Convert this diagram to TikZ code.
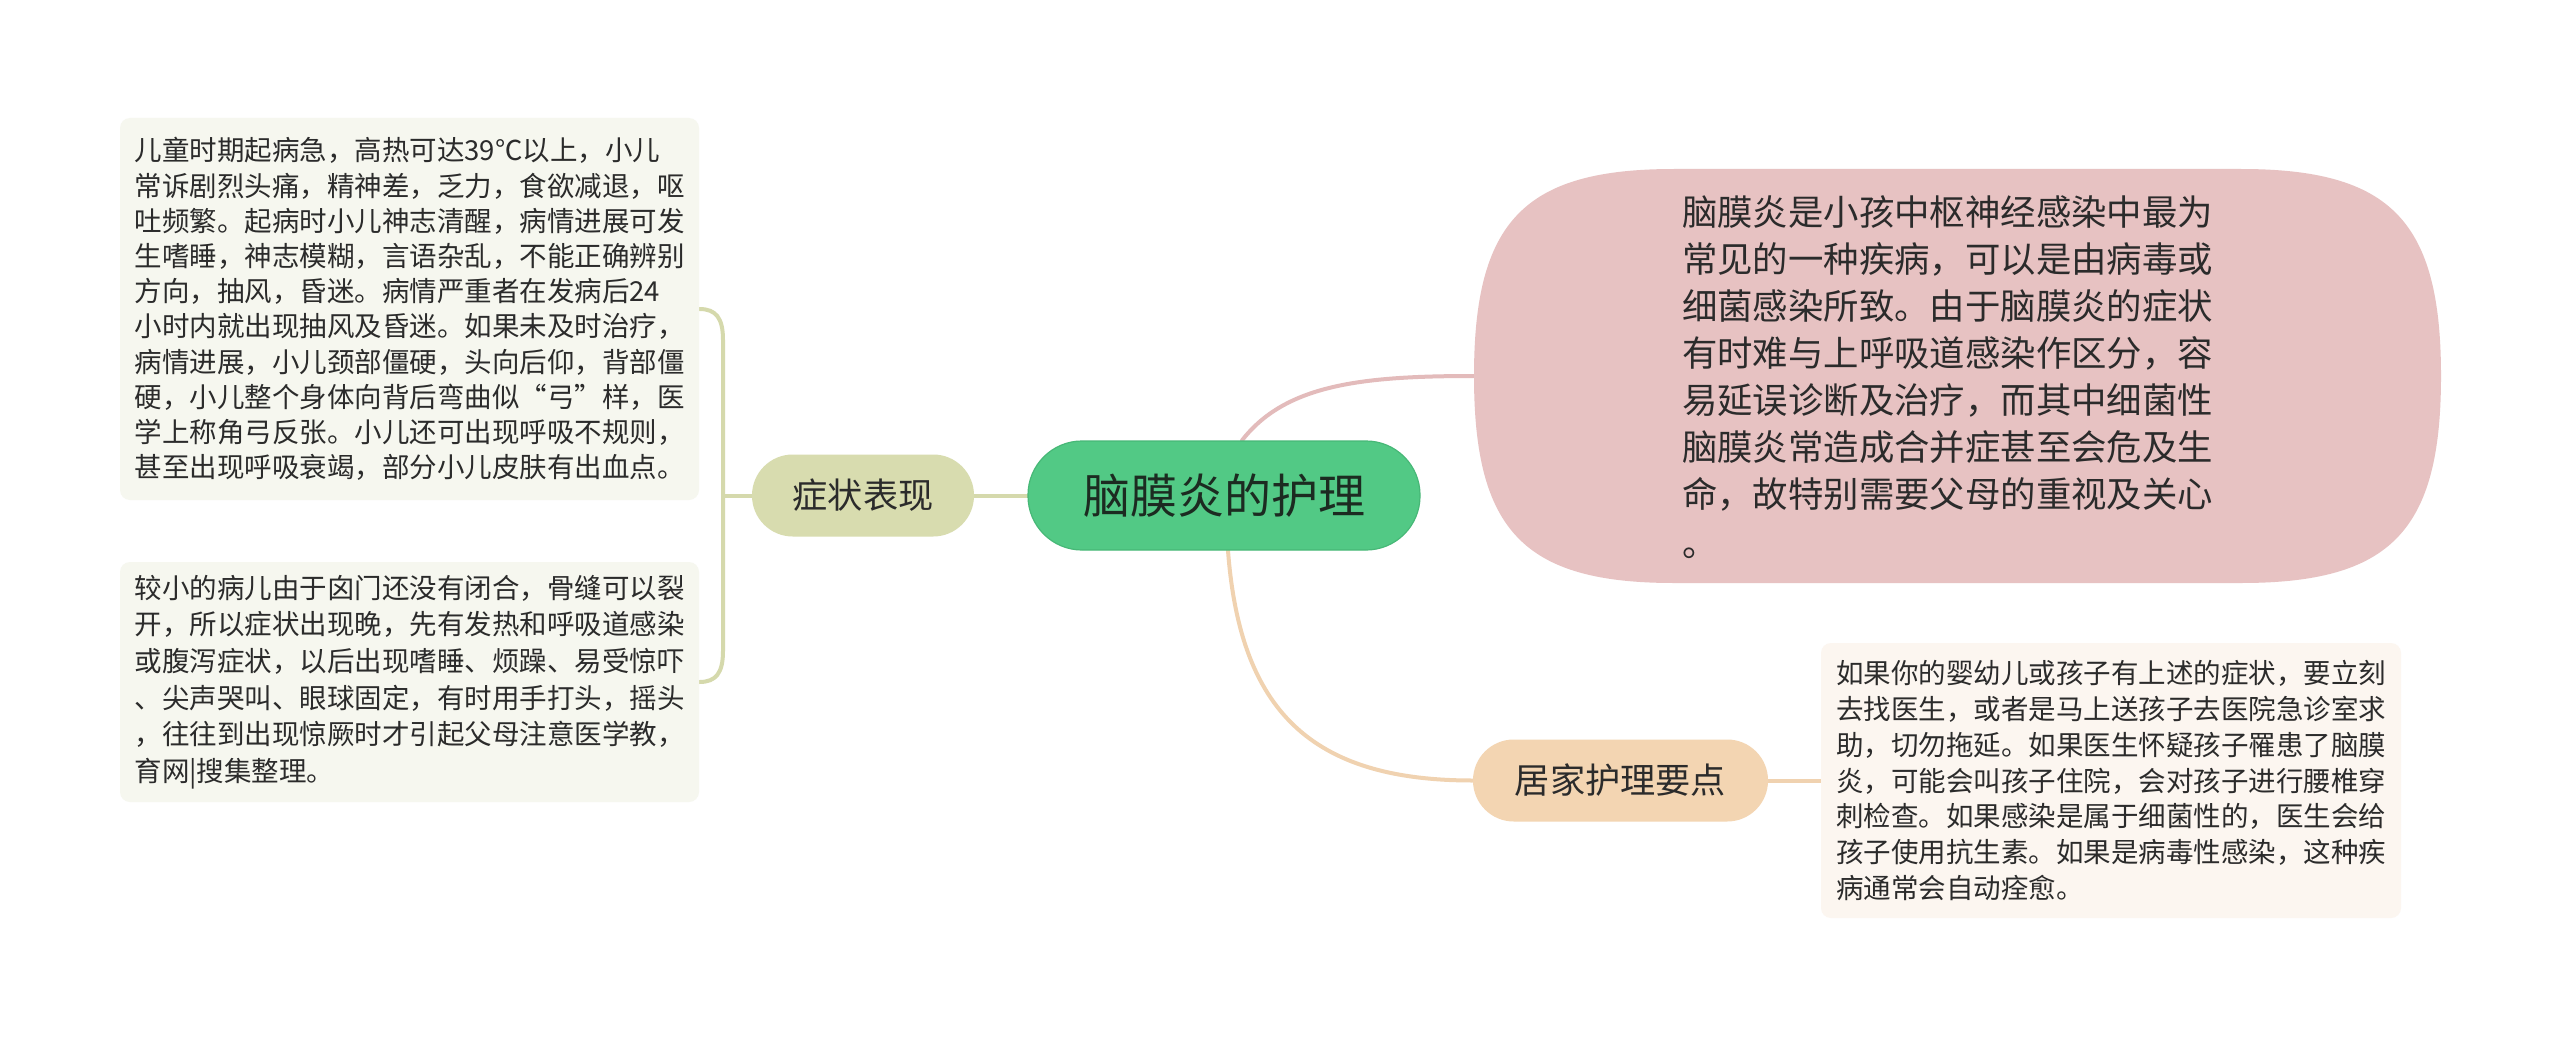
\documentclass[tikz,border=0pt]{standalone}
\usepackage{fontspec}
\setmainfont{Noto Sans CJK SC}
\newfontfamily\cjk{Noto Sans CJK SC}
\usetikzlibrary{backgrounds}
\definecolor{rootg}{HTML}{52C985}
\definecolor{rootd}{HTML}{47B877}
\definecolor{roott}{HTML}{1C2B21}
\definecolor{symf}{HTML}{D8DCAF}
\definecolor{symc}{HTML}{D5D9AC}
\definecolor{homef}{HTML}{F3D5B2}
\definecolor{homec}{HTML}{F0D2B0}
\definecolor{leafg}{HTML}{F6F7EF}
\definecolor{leafp}{HTML}{FCF6F0}
\definecolor{pinkf}{HTML}{E7C2C2}
\definecolor{pinkc}{HTML}{E3BBBB}
\definecolor{txtc}{HTML}{2B2B2B}
\begin{document}
\begin{tikzpicture}[x=0.5pt,y=-0.5pt,
  rootbox/.style={fill=rootg, draw=rootd, line width=0.6pt, rounded corners=27pt,
    minimum width=196pt, minimum height=54.5pt, inner sep=0pt,
    font=\cjk\fontsize{23.5pt}{28pt}\selectfont, text=roott},
  topic/.style={rounded corners=20.4pt, minimum height=41pt, inner sep=0pt,
    font=\cjk\fontsize{17.6pt}{21pt}\selectfont, text=txtc},
  leaf/.style={rounded corners=5pt, inner sep=0pt, align=left, text=txtc,
    font=\cjk\fontsize{13.75pt}{17.8pt}\selectfont},
  conn/.style={line width=2pt, line cap=round}
]
\useasboundingbox (0,0) rectangle (2560,1038);

% pink detail shape
\node[minimum width=483.5pt, minimum height=207pt, inner sep=0pt] (detail) at (1957.5,376) {};
\fill[pinkf] (1674,169) -- (2241,169) .. controls (2391,169) and (2441,221) .. (2441,376)
  .. controls (2441,531) and (2391,583) .. (2241,583) -- (1674,583)
  .. controls (1524,583) and (1474,531) .. (1474,376)
  .. controls (1474,221) and (1524,169) .. (1674,169) -- cycle;
\node[inner sep=0pt, align=left, text=txtc, font=\cjk\fontsize{17.7pt}{23.5pt}\selectfont] (detailtext) at (1947.5,377)
{脑膜炎是小孩中枢神经感染中最为\\
常见的一种疾病，可以是由病毒或\\
细菌感染所致。由于脑膜炎的症状\\
有时难与上呼吸道感染作区分，容\\
易延误诊断及治疗，而其中细菌性\\
脑膜炎常造成合并症甚至会危及生\\
命，故特别需要父母的重视及关心\\[1pt]
。};

\node[rootbox] (root) at (1224,495.5) {脑膜炎的护理};
\node[topic, fill=symf, minimum width=111pt] (sym) at (863,495.5) {症状表现};
\node[topic, fill=homef, minimum width=147.5pt] (home) at (1620.5,780.5) {居家护理要点};

\node[leaf, fill=leafg, minimum width=289.5pt, minimum height=191pt,
  font=\cjk\fontsize{13.75pt}{17.6pt}\selectfont] (s1) at (409.5,309)
{儿童时期起病急，高热可达39℃以上，小儿\\
常诉剧烈头痛，精神差，乏力，食欲减退，呕\\
吐频繁。起病时小儿神志清醒，病情进展可发\\
生嗜睡，神志模糊，言语杂乱，不能正确辨别\\
方向，抽风，昏迷。病情严重者在发病后24\\
小时内就出现抽风及昏迷。如果未及时治疗，\\
病情进展，小儿颈部僵硬，头向后仰，背部僵\\
硬，小儿整个身体向背后弯曲似“弓”样，医\\
学上称角弓反张。小儿还可出现呼吸不规则，\\
甚至出现呼吸衰竭，部分小儿皮肤有出血点。};

\node[leaf, fill=leafg, minimum width=289.5pt, minimum height=120pt,
  font=\cjk\fontsize{13.75pt}{18.3pt}\selectfont] (s2) at (409.5,682)
{较小的病儿由于囟门还没有闭合，骨缝可以裂\\
开，所以症状出现晚，先有发热和呼吸道感染\\
或腹泻症状，以后出现嗜睡、烦躁、易受惊吓\\
、尖声哭叫、眼球固定，有时用手打头，摇头\\
，往往到出现惊厥时才引起父母注意医学教，\\
育网|搜集整理。};

\node[leaf, fill=leafp, minimum width=290pt, minimum height=137.5pt,
  font=\cjk\fontsize{13.75pt}{17.9pt}\selectfont] (h1) at (2111,780.5)
{如果你的婴幼儿或孩子有上述的症状，要立刻\\
去找医生，或者是马上送孩子去医院急诊室求\\
助，切勿拖延。如果医生怀疑孩子罹患了脑膜\\
炎，可能会叫孩子住院，会对孩子进行腰椎穿\\
刺检查。如果感染是属于细菌性的，医生会给\\
孩子使用抗生素。如果是病毒性感染，这种疾\\
病通常会自动痊愈。};

\coordinate (j) at (723,495.5);

\begin{scope}[on background layer]
\fill[white] (0,0) rectangle (2560,1038);
\draw[conn, symc] (root.west) -- (sym.east);
\draw[conn, symc] (sym.west) -- (j);
\draw[conn, symc] (j) -- (723,340) .. controls (723,318) and (716,309) .. (s1.east);
\draw[conn, symc] (j) -- (723,651) .. controls (723,673) and (716,682) .. (s2.east);
\draw[conn, pinkc] ([xshift=9pt]root.north) .. controls (1285,385) and (1360,376) .. (detail.west);
\draw[conn, homec] ([xshift=2pt]root.south) .. controls (1240,710) and (1310,780.5) .. (home.west);
\draw[conn, homec] (home.east) -- (h1.west);
\end{scope}
\end{tikzpicture}
\end{document}
